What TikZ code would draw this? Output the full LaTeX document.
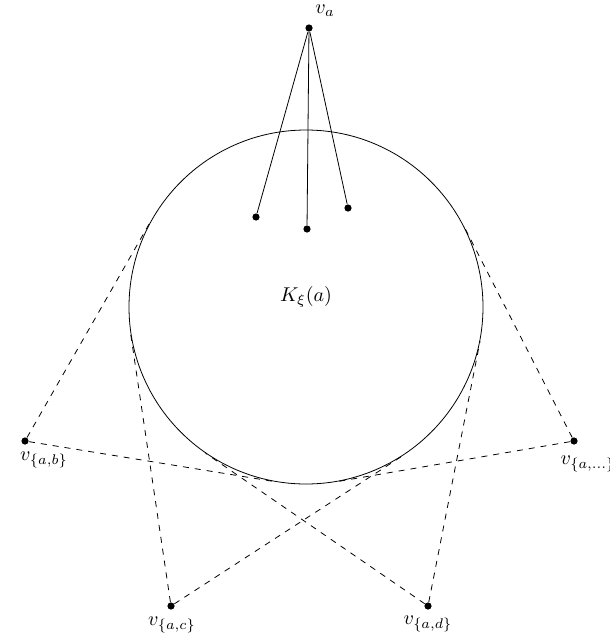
\documentclass[tikz,border=0pt]{standalone}
\usetikzlibrary{calc}
\begin{document}
\begin{tikzpicture}[x=0.5pt,y=-0.5pt,
  dot/.style={circle,fill,inner sep=0pt,minimum size=3.6pt},
  lbl/.style={inner sep=0pt},
  tanline/.style={dashed}]
\useasboundingbox (0,0) rectangle (610,637);
% big circle
\node[draw,circle,minimum size=177pt,inner sep=0pt] (K) at (306,307) {};
\node[lbl] (Kl) at (306,297) {$K_\xi(a)$};
% top vertex and inner points
\node[dot] (va) at (309,28) {};
\node[lbl] (val) at (325,11) {$v_a$};
\node[dot] (d1) at (256,217) {};
\node[dot] (d2) at (307,229) {};
\node[dot] (d3) at (348,208) {};
\draw (va) -- (d1);
\draw (va) -- (d2);
\draw (va) -- (d3);
% outer vertices
\node[dot] (vab) at (25,441) {};
\node[lbl] (vabl) at (44,460) {$v_{\{a,b\}}$};
\node[dot] (vax) at (574,441) {};
\node[lbl] (vaxl) at (588,464) {$v_{\{a,\ldots\}}$};
\node[dot] (vac) at (171,606) {};
\node[lbl] (vacl) at (172,625) {$v_{\{a,c\}}$};
\node[dot] (vad) at (428,606) {};
\node[lbl] (vadl) at (428,624) {$v_{\{a,d\}}$};
% tangent lines
\foreach \v in {vab,vax,vac,vad}{
  \draw[tanline] (\v) -- (tangent cs:node=K,point={(\v)},solution=1);
  \draw[tanline] (\v) -- (tangent cs:node=K,point={(\v)},solution=2);
}
\end{tikzpicture}
\end{document}
